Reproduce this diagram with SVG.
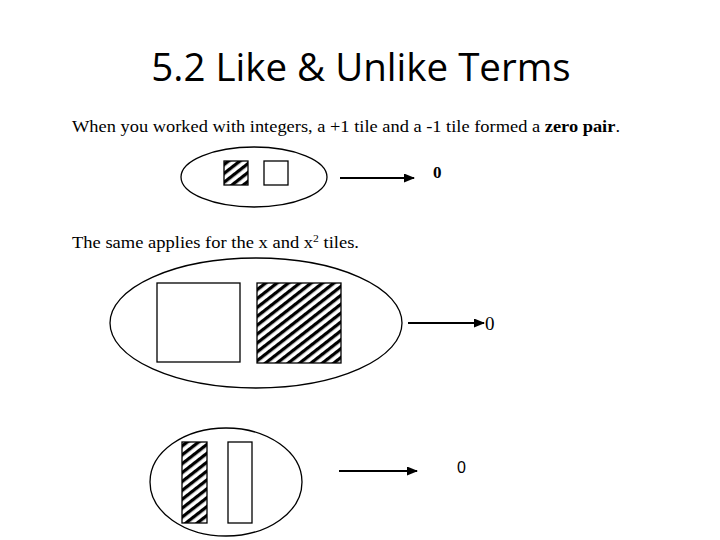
<svg xmlns="http://www.w3.org/2000/svg" width="720" height="540" viewBox="0 0 720 540">
<style>
.title{font-family:"Open Sans","Liberation Sans",sans-serif;font-size:38.5px;fill:#000}
.body{font-family:"Liberation Serif","DejaVu Serif",serif;font-size:17.5px;fill:#000}
.ell{fill:none;stroke:#000;stroke-width:1.3}
.tile{stroke:#000;stroke-width:1.3}
.blank{fill:#fff}
.hatch{fill:url(#hatch)}
.conn{stroke:#000;stroke-width:1.8;fill:none;marker-end:url(#arr)}
</style>
<defs>
<pattern id="hatch" patternUnits="userSpaceOnUse" width="7" height="7" patternTransform="rotate(52)">
<rect width="7" height="7" fill="#fff"/>
<rect x="0" y="0" width="3.3" height="7" fill="#000"/>
</pattern>
<marker id="arr" markerWidth="11" markerHeight="9" refX="10" refY="4.5" orient="auto" markerUnits="userSpaceOnUse">
<path d="M0,0 L11,4.5 L0,9 z" fill="#000"/>
</marker>
</defs>
<rect width="720" height="540" fill="#fff"/>
<text class="title" x="361" y="81" text-anchor="middle">5.2 Like &amp; Unlike Terms</text>
<text class="body" x="72" y="132" textLength="548" lengthAdjust="spacingAndGlyphs">When you worked with integers, a +1 tile and a -1 tile formed a <tspan font-weight="bold">zero pair</tspan>.</text>
<g id="group1">
<ellipse class="ell" cx="254" cy="177" rx="73" ry="30"/>
<rect class="tile hatch" x="224" y="161" width="24" height="24"/>
<rect class="tile blank" x="264" y="161" width="24" height="24"/>
</g>
<text class="body" x="72" y="248" textLength="287" lengthAdjust="spacingAndGlyphs">The same applies for the x and x<tspan font-size="11" dy="-6">2</tspan><tspan dy="6"> tiles.</tspan></text>
<g id="group2">
<ellipse class="ell" cx="256" cy="323" rx="146" ry="65"/>
<rect class="tile blank" x="157" y="283" width="83" height="79"/>
<rect class="tile hatch" x="257" y="283" width="84" height="80"/>
</g>
<g id="group3">
<ellipse class="ell" cx="226" cy="482" rx="76" ry="54"/>
<rect class="tile hatch" x="182" y="442" width="25" height="81"/>
<rect class="tile blank" x="228" y="442" width="24" height="81"/>
</g>
<g id="zero1"><text x="433" y="178" style="font-family:'Liberation Serif',serif;font-weight:bold;font-size:17px">0</text></g>
<g id="zero2"><text x="485" y="330" style="font-family:'Liberation Serif',serif;font-size:19px">0</text></g>
<g id="zero3"><text x="457" y="473" style="font-family:'Liberation Sans',sans-serif;font-size:16px">0</text></g>
<g id="connectors">
<line class="conn" x1="340" y1="178" x2="414" y2="178"/>
<line class="conn" x1="408" y1="323" x2="484" y2="323"/>
<line class="conn" x1="339" y1="471" x2="417" y2="471"/>
</g>
</svg>
